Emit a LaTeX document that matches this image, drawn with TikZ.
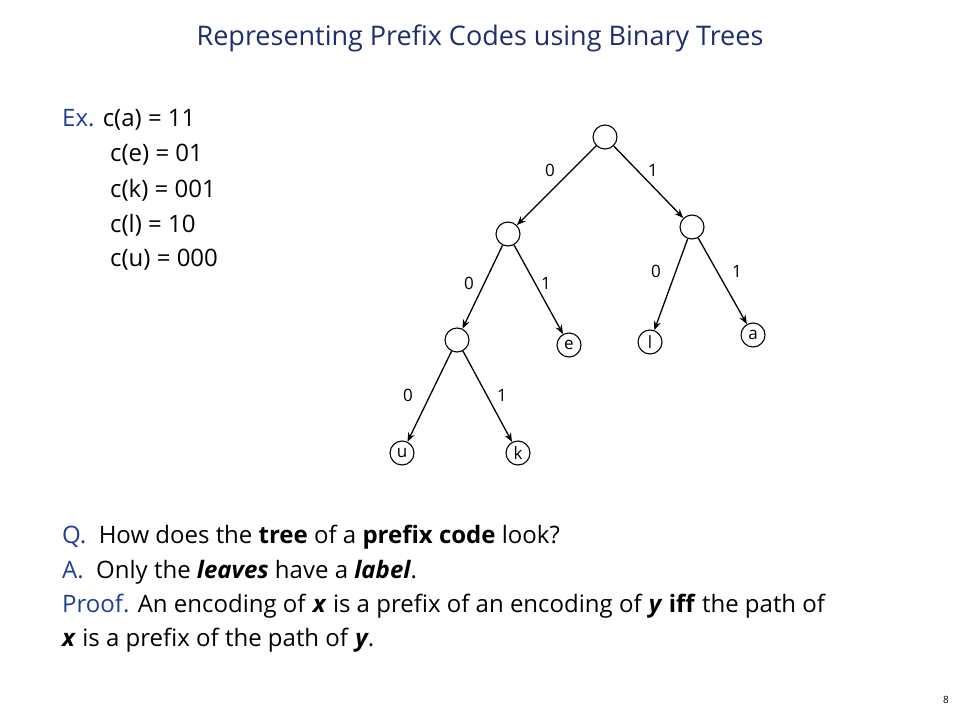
\documentclass[tikz,border=0pt]{standalone}
\usepackage{fontspec}
\setmainfont{Open Sans}
\usetikzlibrary{arrows.meta}
\definecolor{navy}{RGB}{30,45,110}
\definecolor{blu}{RGB}{35,60,150}
\tikzset{
 nd/.style={circle,draw,line width=1.1pt,minimum size=24pt,inner sep=0pt,font=\fontsize{17}{17}\selectfont},
 ed/.style={-{Stealth[length=9pt,width=7pt]},line width=1.3pt},
 lb/.style={font=\fontsize{17}{17}\selectfont},
 tx/.style={anchor=west,font=\fontsize{24}{24}\selectfont,inner sep=0pt}
}
\begin{document}
\begin{tikzpicture}[x=1pt,y=-1pt]
\useasboundingbox (0,0) rectangle (960,720);
\node[font=\fontsize{27}{27}\selectfont,text=navy] (title) at (480,38) {Representing Prefix Codes using Binary Trees};
\node[tx] (ex) at (62,120) {\textcolor{blu}{Ex.} c(a) = 11};
\node[tx] (e1) at (110,155) {c(e) = 01};
\node[tx] (e2) at (110,190) {c(k) = 001};
\node[tx] (e3) at (110,225) {c(l) = 10};
\node[tx] (e4) at (110,260) {c(u) = 000};
\node[nd] (r) at (605,137) {};
\node[nd] (L) at (508,234) {};
\node[nd] (R) at (692,227) {};
\node[nd] (LL) at (457,340) {};
\node[nd] (e) at (569,345) {e};
\node[nd] (l) at (650,342) {l};
\node[nd] (a) at (753,335) {a};
\node[nd] (u) at (402,453) {u};
\node[nd] (k) at (518,453) {k};
\draw[ed] (r) -- (L); \draw[ed] (r) -- (R);
\draw[ed] (L) -- (LL); \draw[ed] (L) -- (e);
\draw[ed] (R) -- (l); \draw[ed] (R) -- (a);
\draw[ed] (LL) -- (u); \draw[ed] (LL) -- (k);
\node[lb] (l1) at (550,170) {0}; \node[lb] (l2) at (653,170) {1};
\node[lb] (l3) at (469,283) {0}; \node[lb] (l4) at (546,283) {1};
\node[lb] (l5) at (656,271) {0}; \node[lb] (l6) at (737,271) {1};
\node[lb] (l7) at (408,395) {0}; \node[lb] (l8) at (502,395) {1};
\node[tx] (q) at (62,537) {\textcolor{blu}{Q.}\ \ How does the \textbf{tree} of a \textbf{prefix code} look?};
\node[tx] (ans) at (62,572) {\textcolor{blu}{A.}\ \ Only the \textbf{\itshape leaves} have a \textbf{\itshape label}.};
\node[tx] (p1) at (62,606) {\textcolor{blu}{Proof.} An encoding of \textbf{\itshape x} is a prefix of an encoding of \textbf{\itshape y} \textbf{iff} the path of};
\node[tx] (p2) at (62,640) {\textbf{\itshape x} is a prefix of the path of \textbf{\itshape y}.};
\node[font=\fontsize{10}{10}\selectfont] (pg) at (946,700) {8};
\end{tikzpicture}
\end{document}
